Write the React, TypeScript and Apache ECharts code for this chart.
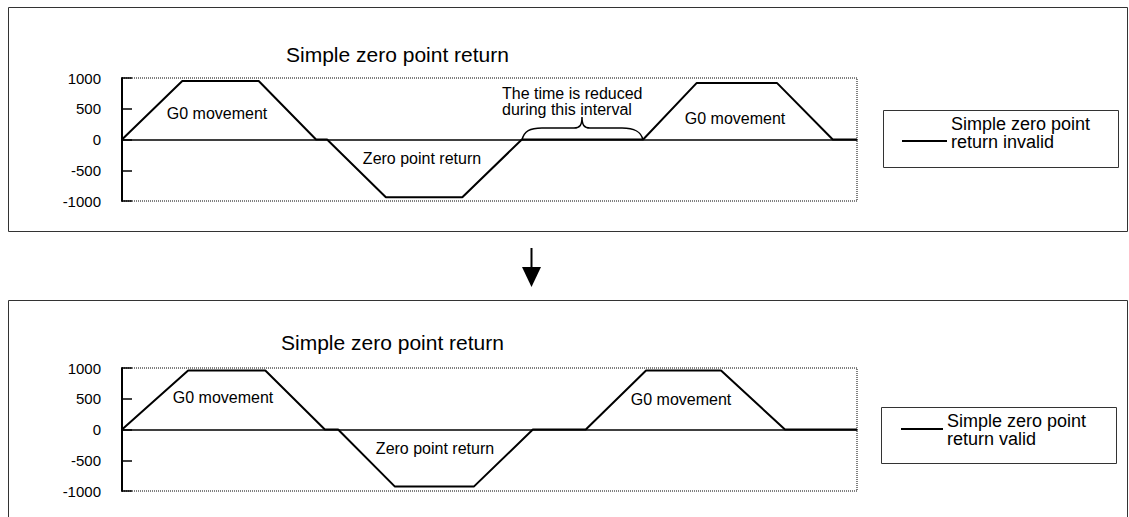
import React, { useEffect, useRef } from "react";
import * as echarts from "echarts";

// Time axis (arbitrary units, 0..100) and speed values
const topTimes = [0, 8.2, 18.6, 26.4, 27.9, 35.9, 46.3, 54.4, 70.9, 78.2, 89.1, 96.7, 100];
const topSpeeds = [0, 950, 950, 0, 0, -940, -940, 0, 0, 920, 920, 0, 0];
const bottomTimes = [0, 9.0, 19.5, 27.6, 29.4, 37.1, 47.9, 55.9, 63.1, 71.3, 81.5, 90.2, 100];
const bottomSpeeds = [0, 960, 960, 0, 0, -925, -925, 0, 0, 960, 960, 0, 0];
const yTicks = [-1000, -500, 0, 500, 1000];

const chartTitle = "Simple zero point return";
const topLegend = "Simple zero point\nreturn invalid";
const bottomLegend = "Simple zero point\nreturn valid";
const g0Label = "G0 movement";
const zeroLabel = "Zero point return";
const braceLabel = "The time is reduced\nduring this interval";

const FONT = "'Liberation Sans', Arial, Helvetica, sans-serif";

echarts.graphic.registerShape(
  "brace",
  echarts.graphic.extendPath(
    "M0,23 C2,14 8,11 20,11 L52,11 C58,11 60,8 60,0 C60,8 62,11 68,11 L100,11 C112,11 119,14 121,23",
    {}
  )
);

function pairs(xs: number[], ys: number[]) {
  return xs.map((x, i) => [x, ys[i]]);
}

export default function App() {
  const ref = useRef<HTMLDivElement>(null);
  useEffect(() => {
    if (!ref.current) return;
    const chart = echarts.init(ref.current, null, { renderer: "svg" });
    const yAxisBase = (gridIndex: number) => ({
      type: "value",
      gridIndex,
      min: yTicks[0],
      max: yTicks[yTicks.length - 1],
      interval: 500,
      axisLine: { show: true, lineStyle: { color: "#000", width: 2 } },
      axisTick: { show: true, inside: true, length: 10, lineStyle: { color: "#000", width: 1.5 } },
      axisLabel: { color: "#000", fontSize: 15, fontFamily: FONT, margin: 21, formatter: (v: number) => String(v) },
      splitLine: { show: false },
    });
    const xAxisBase = (gridIndex: number) => ({
      type: "value",
      gridIndex,
      min: 0,
      max: 100,
      axisLine: { show: true, onZero: true, lineStyle: { color: "#000", width: 1.5 } },
      axisTick: { show: false },
      axisLabel: { show: false },
      splitLine: { show: false },
    });
    const titleBase = {
      text: chartTitle,
      padding: 0,
      textStyle: { color: "#000", fontSize: 21, fontWeight: "normal", fontFamily: FONT },
    };
    const label = (text: string, x: number, y: number) => ({
      type: "text",
      x,
      y,
      style: {
        text,
        fill: "#000",
        font: `16px ${FONT}`,
        textAlign: "center",
        textVerticalAlign: "middle",
      },
    });
    const legendBox = (x: number, y: number, w: number, h: number, lx1: number, lx2: number, ly: number, tx: number, ty: number, text: string) => [
      { type: "rect", shape: { x, y, width: w, height: h }, style: { fill: "#fff", stroke: "#333", lineWidth: 1 } },
      { type: "line", shape: { x1: lx1, y1: ly, x2: lx2, y2: ly }, style: { stroke: "#000", lineWidth: 2 } },
      {
        type: "text",
        x: tx,
        y: ty,
        style: { text, fill: "#000", font: `18px ${FONT}`, lineHeight: 18, textAlign: "left", textVerticalAlign: "middle" },
      },
    ];
    chart.setOption({
      animation: false,
      backgroundColor: "#fff",
      title: [
        { ...titleBase, left: 286, top: 44 },
        { ...titleBase, left: 281, top: 332 },
      ],
      grid: [
        { left: 122, top: 78, width: 735, height: 123, show: true, borderColor: "#000", borderWidth: 1, borderType: "dotted", backgroundColor: "transparent" },
        { left: 122, top: 368, width: 735, height: 123, show: true, borderColor: "#000", borderWidth: 1, borderType: "dotted", backgroundColor: "transparent" },
      ],
      xAxis: [xAxisBase(0), xAxisBase(1)],
      yAxis: [yAxisBase(0), yAxisBase(1)],
      series: [
        {
          name: "Simple zero point return invalid",
          type: "line",
          xAxisIndex: 0,
          yAxisIndex: 0,
          data: pairs(topTimes, topSpeeds),
          showSymbol: false,
          lineStyle: { color: "#000", width: 2 },
          z: 5,
        },
        {
          name: "Simple zero point return valid",
          type: "line",
          xAxisIndex: 1,
          yAxisIndex: 1,
          data: pairs(bottomTimes, bottomSpeeds),
          showSymbol: false,
          lineStyle: { color: "#000", width: 2 },
          z: 5,
        },
      ],
      graphic: [
        { type: "rect", z: -10, shape: { x: 8.5, y: 7.5, width: 1119, height: 224 }, style: { fill: "none", stroke: "#333", lineWidth: 1 } },
        { type: "rect", z: -10, shape: { x: 8.5, y: 300.5, width: 1119, height: 240 }, style: { fill: "none", stroke: "#333", lineWidth: 1 } },
        label(g0Label, 217, 113),
        label(zeroLabel, 422, 158),
        label(g0Label, 735, 118),
        label(g0Label, 223, 397),
        label(zeroLabel, 435, 448),
        label(g0Label, 681, 399),
        {
          type: "text",
          x: 502,
          y: 101,
          style: { text: braceLabel, fill: "#000", font: `16px ${FONT}`, lineHeight: 16, textAlign: "left", textVerticalAlign: "middle" },
        },
        { type: "brace", x: 522, y: 117, style: { fill: "none", stroke: "#000", lineWidth: 1.5 } },
        ...legendBox(883.5, 110.5, 235, 57, 902, 947, 141, 951, 133, topLegend),
        ...legendBox(881.5, 407.5, 235, 56, 901, 943, 429, 947, 430, bottomLegend),
        { type: "line", shape: { x1: 531.5, y1: 248, x2: 531.5, y2: 268 }, style: { stroke: "#000", lineWidth: 2 } },
        { type: "polygon", shape: { points: [[522, 267], [541, 267], [531.5, 287]] }, style: { fill: "#000" } },
      ],
    });
    return () => chart.dispose();
  }, []);
  return <div ref={ref} style={{ position: "absolute", left: 0, top: 0, width: 1129, height: 517 }} />;
}
